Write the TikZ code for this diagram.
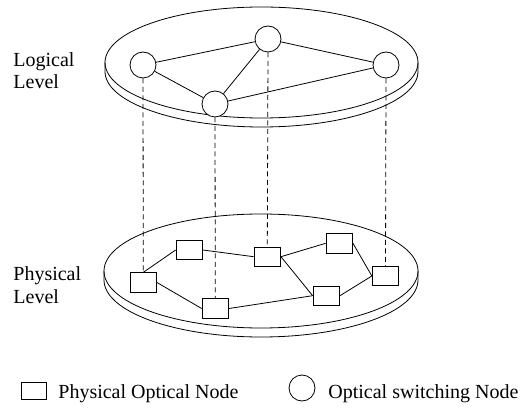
\documentclass[tikz,border=0pt]{standalone}
\usepackage{fontspec}
\setmainfont{Liberation Serif}
\begin{document}
\begin{tikzpicture}[x=1pt,y=-1pt,line width=0.8pt,
  switchnode/.style={circle,draw,fill=white,minimum size=26pt,inner sep=0pt},
  physnode/.style={rectangle,draw,fill=white,minimum width=26.5pt,minimum height=19.5pt,inner sep=0pt},
  proj/.style={dash pattern=on 5pt off 3.5pt},
  lbl/.style={anchor=base west,inner sep=0pt,font=\fontsize{20}{22}\selectfont}]
\useasboundingbox (0,0) rectangle (532,411);

% logical plate (top surface and rim)
\draw (261.5,62.5) ellipse [x radius=156.5, y radius=55.5];
\draw (105,62.5) -- (105,71.5) arc[start angle=180,end angle=0,x radius=156.5,y radius=55.5] -- (418,62.5);

% physical plate (top surface and rim)
\draw (261,271) ellipse [x radius=157, y radius=57];
\draw (104,271) -- (104,280) arc[start angle=180,end angle=0,x radius=157,y radius=57] -- (418,271);

% level labels
\node[lbl] (loglbl1) at (13,67) {Logical};
\node[lbl] (loglbl2) at (13,89) {Level};
\node[lbl] (phylbl1) at (13,280) {Physical};
\node[lbl] (phylbl2) at (13,303) {Level};

% optical switching nodes
\node[switchnode] (c1) at (143,65) {};
\node[switchnode] (c2) at (268,39) {};
\node[switchnode] (c3) at (386,65) {};
\node[switchnode] (c4) at (215,104) {};

% physical optical nodes
\node[physnode] (r1) at (143.3,282.5) {};
\node[physnode] (r2) at (189.3,250) {};
\node[physnode] (r3) at (267.3,256.7) {};
\node[physnode] (r4) at (339.3,243.3) {};
\node[physnode] (r5) at (385.5,276) {};
\node[physnode] (r6) at (326.3,295.7) {};
\node[physnode] (r7) at (215.3,308.5) {};

% mapping of logical onto physical nodes
\draw[proj] (c1.south) -- (r1.north);
\draw[proj] (c4.south) -- (r7.north);
\draw[proj] (c2.south) -- (r3.north);
\draw[proj] (c3.south) -- (r5.north);

% logical links
\draw (c1) -- (c2);
\draw (c1) -- (c4);
\draw (c4) -- (c2);
\draw (c2) -- (c3);
\draw (c4) -- (c3);

% physical links
\draw (r1.north) -- (r2.west);
\draw (r2.east) -- (r3.west);
\draw (r3.east) -- (r4.west);
\draw (r3.east) -- (r6.west);
\draw (r4.east) -- (r5.west);
\draw (r6.east) -- (r5.west);
\draw (r6.west) -- (r7.east);
\draw (r1.east) -- (r7.west);

% legend
\node[physnode,minimum width=25pt,minimum height=17pt] (keysq) at (33.5,391) {};
\node[lbl] (keysqtxt) at (58,398) {Physical Optical Node};
\node[switchnode] (keycirc) at (302,388) {};
\node[lbl] (keycirctxt) at (328,398) {Optical switching Node};
\end{tikzpicture}
\end{document}
